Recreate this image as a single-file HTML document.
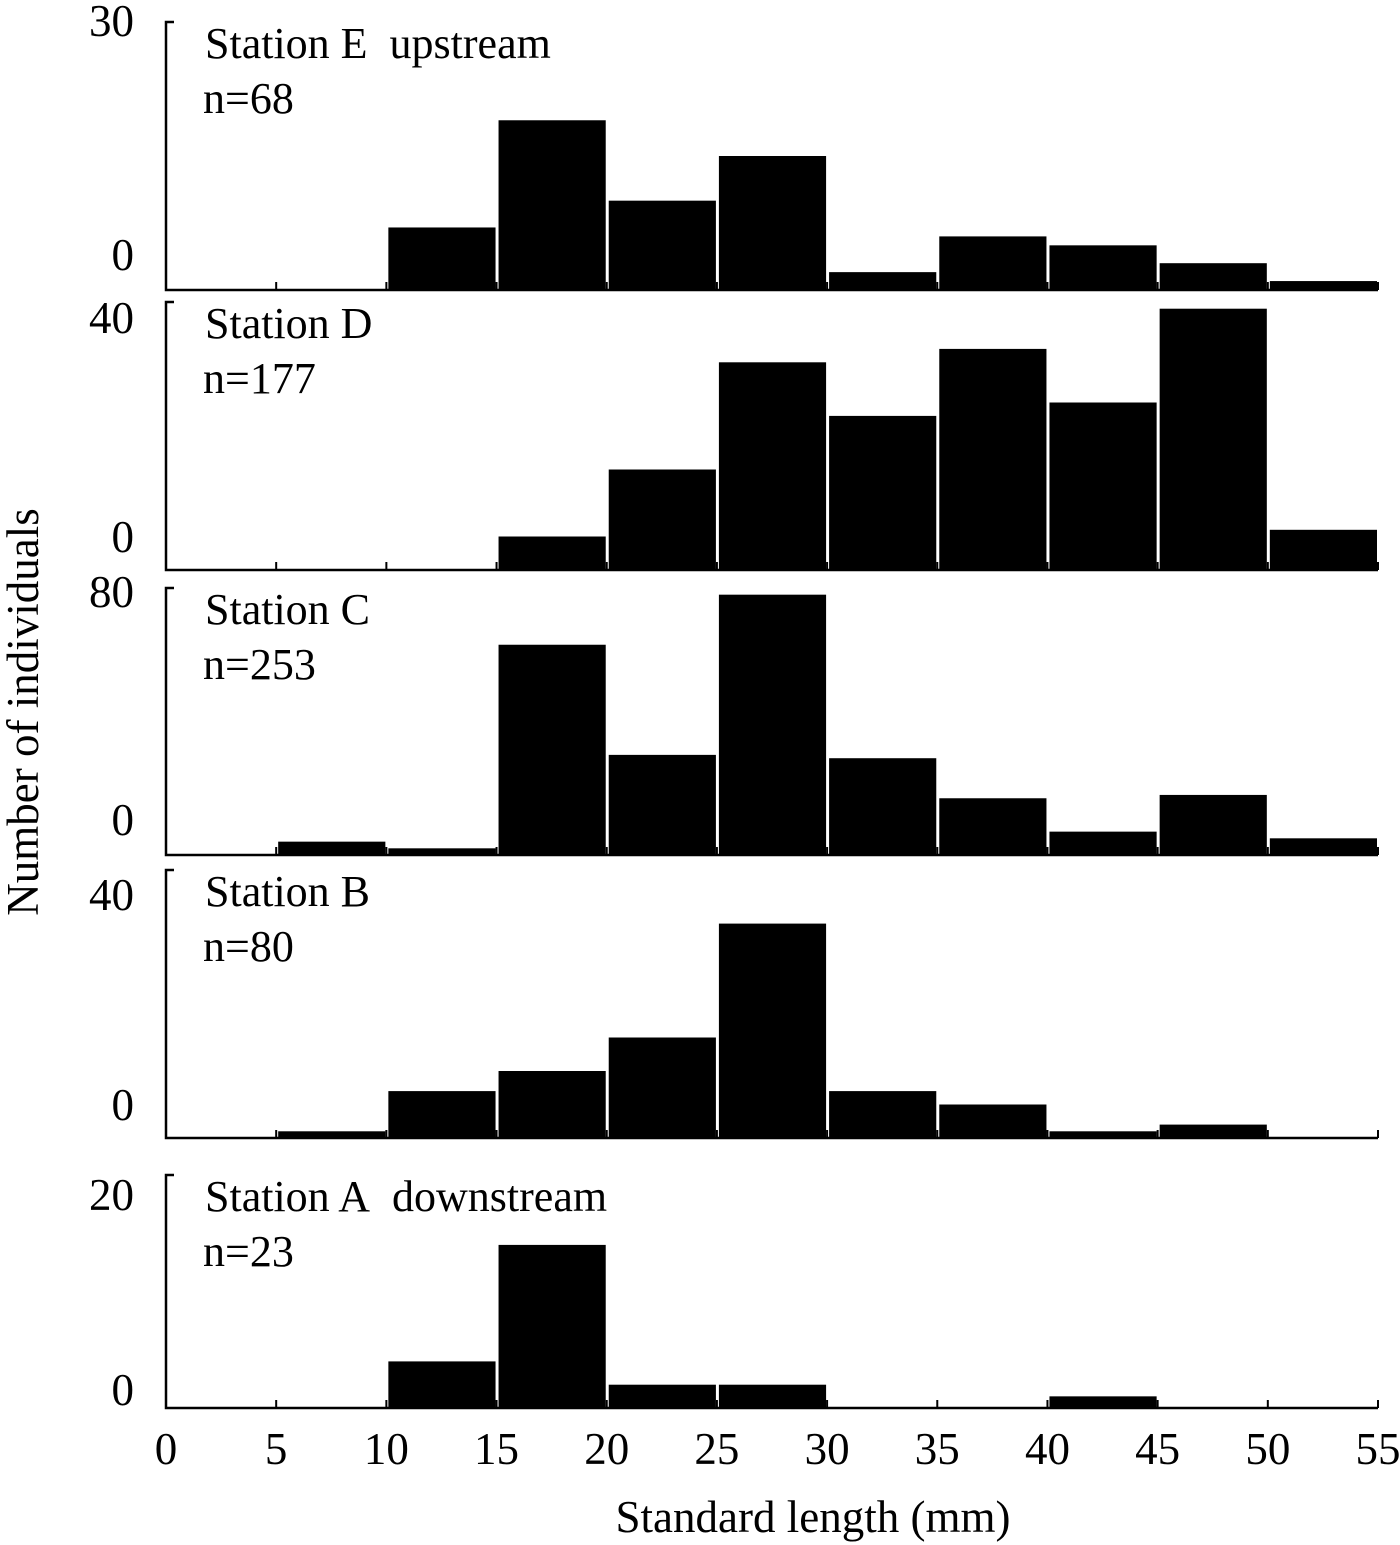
<!DOCTYPE html>
<html><head><meta charset="utf-8"><style>
html,body{margin:0;padding:0;background:#fff;}
svg{display:block;font-family:"Liberation Serif",serif;}
text{white-space:pre;}
</style></head><body>
<svg id="chart" width="1400" height="1545" viewBox="0 0 1400 1545">
<text x="38" y="712" font-size="45" text-anchor="middle" transform="rotate(-90 38 712)">Number of individuals</text>
<text x="813" y="1532" font-size="45" text-anchor="middle">Standard length (mm)</text>
</svg>
<script>
const binStarts = [0,5,10,15,20,25,30,35,40,45,50];
const xTicks = [0,5,10,15,20,25,30,35,40,45,50,55];
const stationNames = ["Station E\u00a0\u00a0upstream","Station D","Station C","Station B","Station A\u00a0\u00a0downstream"];
const stationN = ["n=68","n=177","n=253","n=80","n=23"];
const yMax = [30,40,80,40,20];
const countsE = [0,0,7,19,10,15,2,6,5,3,1];
const countsD = [0,0,0,5,15,31,23,33,25,39,6];
const countsC = [0,4,2,63,30,78,29,17,7,18,5];
const countsB = [0,1,7,10,15,32,7,5,1,2,0];
const countsA = [0,0,4,14,2,2,0,0,1,0,0];
const allCounts = [countsE,countsD,countsC,countsB,countsA];

const svg = document.getElementById('chart');
const NS = 'http://www.w3.org/2000/svg';
const X0 = 166, X1 = 1378;
const xScale = v => X0 + (v/55)*(X1-X0);
const panelTop = [22,302,588,870,1175];
const panelBase = [290,570,855,1138,1408];
const zeroLabelY = [270,552,835,1120,1405];
const topLabelY = [36,333,607,910,1210];
const keys = ['e','d','c','b','a'];

function mk(tag, attrs){const el=document.createElementNS(NS,tag);for(const k in attrs)el.setAttribute(k,attrs[k]);svg.appendChild(el);return el;}

allCounts.forEach((counts,p)=>{
  const top=panelTop[p], base=panelBase[p];
  const yScale = v => base - (v/yMax[p])*(base-top);
  counts.forEach((c,i)=>{
    if(c<=0) return;
    const xa=xScale(binStarts[i])+2, xb=xScale(binStarts[i]+5)-1;
    const r=mk('rect',{x:xa,y:yScale(c),width:xb-xa,height:base-yScale(c),fill:'#000'});
    
    
  });
  const ax=mk('path',{d:`M${X0+8},${top} H${X0} V${base} H${X1}`,fill:'none',stroke:'#000','stroke-width':2.5});
  
  
  xTicks.forEach(t=>{
    if(t===0) return;
    const tk=mk('line',{x1:xScale(t),x2:xScale(t),y1:base,y2:base-8,stroke:'#000','stroke-width':2});
    
    
  });
  const tl=mk('text',{x:134,y:topLabelY[p],'font-size':45,'text-anchor':'end'});
  tl.textContent=yMax[p];
  
  
  const zl=mk('text',{x:134,y:zeroLabelY[p],'font-size':45,'text-anchor':'end'});
  zl.textContent='0';
  
  
  const nm=mk('text',{x:205,y:top+36,'font-size':44});
  nm.textContent=stationNames[p];
  
  
  const nn=mk('text',{x:203,y:top+91,'font-size':44});
  nn.textContent=stationN[p];
  
  
});
xTicks.forEach(t=>{
  const l=mk('text',{x:xScale(t),y:1464,'font-size':45,'text-anchor':'middle'});
  l.textContent=t;
  
  
});
</script>
</body></html>
